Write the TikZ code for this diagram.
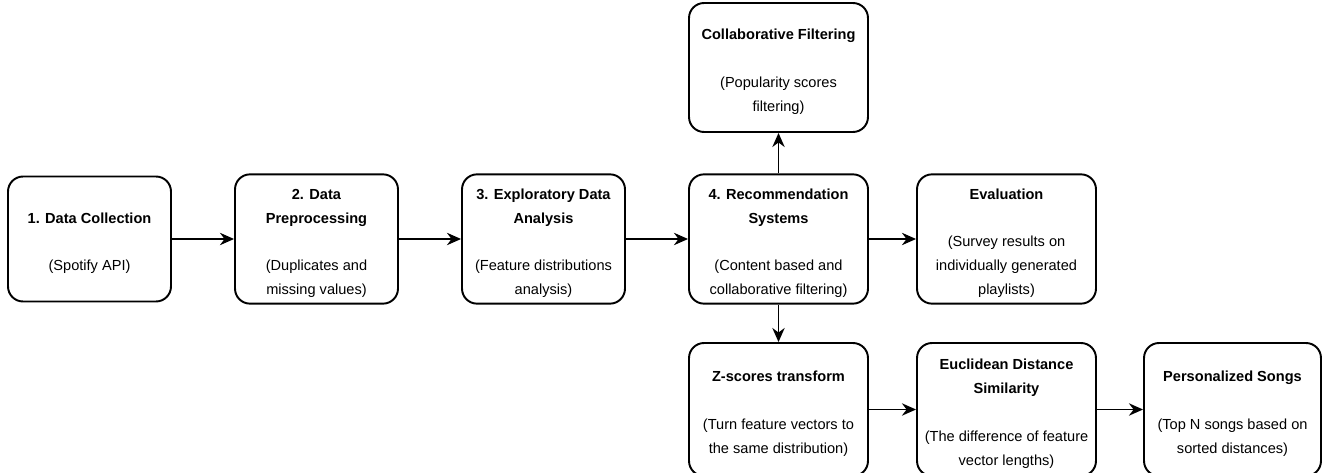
\documentclass[tikz,border=0pt]{standalone}
\usepackage{fontspec}
\setmainfont{Liberation Sans}
\usetikzlibrary{arrows.meta}
\newcommand{\hd}[1]{\rule{0pt}{10.8pt}\textbf{#1}}

\begin{document}
\begin{tikzpicture}
        [x=0.02cm,y=-0.02cm,-,every node/.style={shape=rectangle,rounded corners=0.3cm,
        draw,line width=1.1pt,align=center,minimum width=3.26cm,minimum height=2.5cm,
        font=\fontsize{8.3}{13.6}\selectfont},
        wide/.style={minimum width=3.58cm,minimum height=2.54cm}]
        \useasboundingbox (0,0) rectangle (1322,473);
        \node (dc) at (89.5,239) {\hd{1. Data Collection}\\[13.6pt](Spotify API)};
        \node (pre) at (316.5,239) {\hd{2. Data}\\\textbf{Preprocessing}\\[13.6pt](Duplicates and\\missing values)};
        \node (eda) at (543.5,239) {\hd{3. Exploratory Data}\\\textbf{Analysis}\\[13.6pt](Feature distributions\\analysis)};
        %%
        \node[wide] (rec) at (778.5,239) {\hd{4. Recommendation}\\\textbf{Systems}\\[13.6pt](Content based and\\collaborative filtering)};
        \node[wide,minimum height=2.58cm] (cf) at (778.5,67.5) {\hd{Collaborative Filtering}\\[13.6pt](Popularity scores\\filtering)};
        \node[wide] (ev) at (1006.5,239) {\hd{Evaluation}\\[13.6pt](Survey results on\\individually generated\\playlists)};
        %%
        \node[wide,minimum height=2.66cm] (zs) at (778.5,409.5) {\hd{Z-scores transform}\\[13.6pt](Turn feature vectors to\\the same distribution)};
        \node[wide,minimum height=2.66cm] (ed) at (1006.5,409.5) {\hd{Euclidean Distance}\\\textbf{Similarity}\\[13.6pt](The difference of feature\\vector lengths)};
        \node[wide,minimum height=2.66cm,minimum width=3.54cm] (ps) at (1232.5,409.5) {\hd{Personalized Songs}\\[13.6pt](Top N songs based on\\sorted distances)};
        \path
        \foreach \startNode/\endNode in {dc/pre,pre/eda,eda/rec,rec/ev,rec/cf,rec/zs,zs/ed,ed/ps}
        {
          (\startNode) edge[-{Stealth[length=8pt,width=7pt]},line width=1.1pt] (\endNode)
        };
\end{tikzpicture}
\end{document}
